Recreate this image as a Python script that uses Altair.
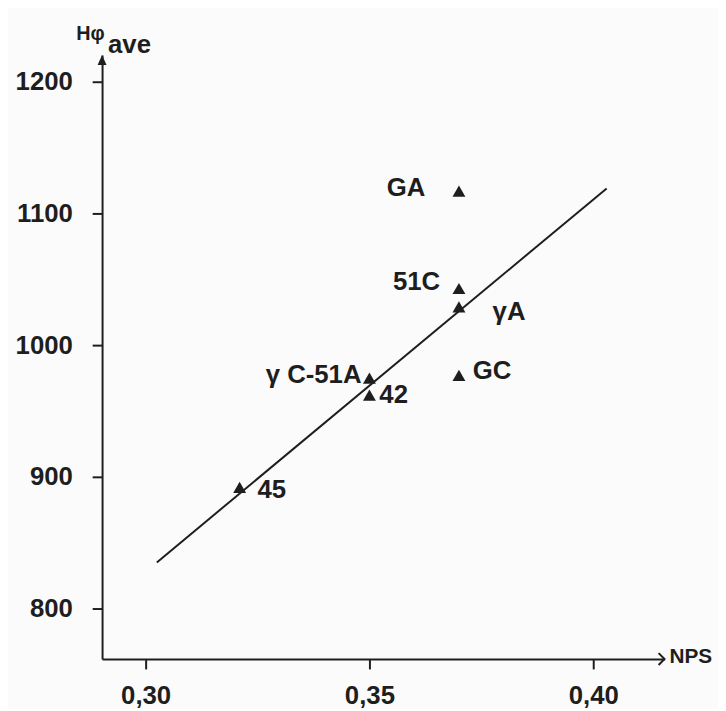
import altair as alt
import pandas as pd

# ---- data ----
labels = ["GA", "51C", "γA", "GC", "γ C-51A", "42", "45"]
nps = [0.370, 0.370, 0.370, 0.370, 0.350, 0.350, 0.321]
h_ave = [1117, 1043, 1029, 977, 975, 962, 892]

fit_nps = [0.3025, 0.4030]
fit_h = [835, 1119]

x_ticks = [0.30, 0.35, 0.40]
y_ticks = [800, 900, 1000, 1100, 1200]
x_domain = [0.29027, 0.41593]
y_domain = [761.65, 1220.3]

FONT = "Liberation Sans, Arial, sans-serif"
INK = "#1e1e1e"
FS = 26

pts = pd.DataFrame({"label": labels, "nps": nps, "h": h_ave})
fit = pd.DataFrame({"nps": fit_nps, "h": fit_h})
ends = pd.DataFrame({"nps": [x_domain[0], x_domain[1]], "h": [y_domain[1], y_domain[0]],
                     "which": ["ytip", "xtip"]})

xs = alt.Scale(domain=x_domain, nice=False, zero=False)
ys = alt.Scale(domain=y_domain, nice=False, zero=False)

X = alt.X("nps:Q", scale=xs, title=None,
          axis=alt.Axis(values=x_ticks, labelExpr="replace(format(datum.value, '.2f'), '.', ',')",
                        tickSize=10, labelPadding=14, grid=False, labelFlush=False))
Y = alt.Y("h:Q", scale=ys, title=None,
          axis=alt.Axis(values=y_ticks, format="d", tickSize=10, labelPadding=20, grid=False, labelFlush=False))

base_axes = alt.Chart(fit).mark_line(color=INK, strokeWidth=2).encode(x=X, y=Y)

points = alt.Chart(pts).mark_point(shape="triangle-up", filled=True, size=170, color=INK, opacity=1).encode(
    x=alt.X("nps:Q", scale=xs), y=alt.Y("h:Q", scale=ys))

offsets = {
    "GA": ("right", -34, -3),
    "51C": ("right", -19, -6),
    "γA": ("left", 34, 5),
    "GC": ("left", 14, -4),
    "γ C-51A": ("right", -8, -3),
    "42": ("left", 10, 0),
    "45": ("left", 18, 3),
}
text_layers = []
for lab, (al, dx, dy) in offsets.items():
    text_layers.append(
        alt.Chart(pts).transform_filter(alt.datum.label == lab).mark_text(
            align=al, baseline="middle", dx=dx, dy=dy, font=FONT, fontSize=FS, fontWeight="bold", color=INK
        ).encode(x=alt.X("nps:Q", scale=xs), y=alt.Y("h:Q", scale=ys), text="label:N")
    )

ytip = alt.Chart(ends).transform_filter(alt.datum.which == "ytip").mark_point(
    shape="M0,0L-0.45,1L0.45,1Z", filled=True, size=400, color=INK, opacity=1
).encode(x=alt.X("nps:Q", scale=xs), y=alt.Y("h:Q", scale=ys))

xtip = alt.Chart(ends).transform_filter(alt.datum.which == "xtip").mark_point(
    shape="M-1,-1L0,0L-1,1", filled=False, size=144, color=INK, strokeWidth=2, opacity=1
).encode(x=alt.X("nps:Q", scale=xs), y=alt.Y("h:Q", scale=ys))

ytitle1 = alt.Chart(ends).transform_filter(alt.datum.which == "ytip").mark_text(
    align="left", baseline="alphabetic", dx=-26, dy=-15, font=FONT, fontSize=20, fontWeight="bold", color=INK
).encode(x=alt.X("nps:Q", scale=xs), y=alt.Y("h:Q", scale=ys), text=alt.value("Hφ"))

ytitle2 = alt.Chart(ends).transform_filter(alt.datum.which == "ytip").mark_text(
    align="left", baseline="alphabetic", dx=6, dy=-2, font=FONT, fontSize=26, fontWeight="bold", color=INK
).encode(x=alt.X("nps:Q", scale=xs), y=alt.Y("h:Q", scale=ys), text=alt.value("ave"))

xtitle = alt.Chart(ends).transform_filter(alt.datum.which == "xtip").mark_text(
    align="left", baseline="middle", dx=5, dy=-2, font=FONT, fontSize=21, fontWeight="bold", color=INK
).encode(x=alt.X("nps:Q", scale=xs), y=alt.Y("h:Q", scale=ys), text=alt.value("NPS"))

chart = alt.layer(base_axes, points, *text_layers, ytip, xtip, ytitle1, ytitle2, xtitle).properties(
    width=568, height=610,
    padding={"left": 95, "top": 44, "right": 54, "bottom": 47},
    autosize=alt.AutoSizeParams(type="none"),
    background="#fbfbfb",
).configure_view(stroke=None).configure_axis(
    domainColor=INK, domainWidth=2, tickColor=INK, tickWidth=2,
    labelFont=FONT, labelFontSize=FS, labelFontWeight="bold", labelColor=INK,
)

chart.save("out.html", embed_options={"renderer": "svg", "actions": False})
